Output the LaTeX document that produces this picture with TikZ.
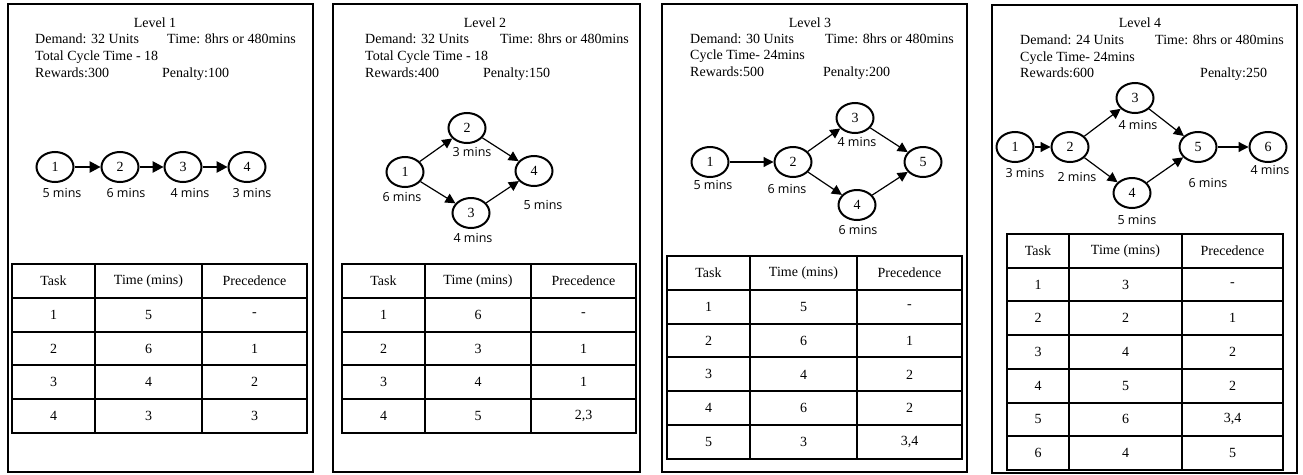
\documentclass[tikz,border=0pt]{standalone}
\usepackage{fontspec}
\setmainfont{Liberation Serif}
\newfontfamily\lblfont{Open Sans}
\usetikzlibrary{arrows.meta,shapes.geometric}
\tikzset{
  panel/.style={draw=black,line width=2pt},
  task/.style={ellipse,draw=black,line width=2pt,minimum width=37pt,minimum height=30pt,inner sep=0pt,font=\fontsize{14}{16}\selectfont},
  link/.style={line width=1.2pt,-{Triangle[length=10pt,width=10pt]}},
  biglink/.style={line width=1.2pt,-{Triangle[length=11pt,width=11.5pt]}},
  mins/.style={font=\lblfont\fontsize{12.5}{14}\selectfont,inner sep=0pt},
  head/.style={anchor=base west,inner sep=0pt,font=\fontsize{14}{16}\selectfont},
  title/.style={anchor=base,inner sep=0pt,font=\fontsize{14}{16}\selectfont},
  tabline/.style={line width=2pt},
  tabtext/.style={inner sep=0pt,font=\fontsize{14}{16}\selectfont},
}
% #1 prefix, #2..#5 column x, #6 top y, #7 row height, #8 rows, #9 data
\newcommand{\mktable}[9]{%
  \draw[tabline] (#2,#6) rectangle ({#5},{#6+#8*#7});
  \draw[tabline] (#3,#6) -- ({#3},{#6+#8*#7});
  \draw[tabline] (#4,#6) -- ({#4},{#6+#8*#7});
  \foreach \a/\b/\c [count=\i from 0] in {#9} {
    \draw[tabline] ({#2},{#6+\i*#7}) -- ({#5},{#6+\i*#7});
    \node[tabtext] (#1-\i-a) at ({(#2+#3)/2},{#6+(\i+0.5)*#7}) {\a};
    \node[tabtext] (#1-\i-b) at ({(#3+#4)/2},{#6+(\i+0.5)*#7}) {\b};
    \node[tabtext] (#1-\i-c) at ({(#4+#5)/2},{#6+(\i+0.5)*#7}) {\c};
  }%
}
\begin{document}
\begin{tikzpicture}[x=1pt,y=-1pt]
\useasboundingbox (0,0) rectangle (1303,474);
\fill[white] (0,0) rectangle (1303,474);

% ---------- Panel 1 ----------
\draw[panel] (8,4) rectangle (313,472);
\node[title] (t1) at (155,27) {Level 1};
\node[head] (d1) at (35,43) {Demand: 32 Units};
\node[head] (h1) at (167,43) {Time: 8hrs or 480mins};
\node[head] (c1) at (35,60) {Total Cycle Time - 18};
\node[head] (r1) at (35,77) {Rewards:300};
\node[head] (p1) at (162,77) {Penalty:100};
\node[task] (a1) at (55,167) {1};
\node[task] (a2) at (120,167) {2};
\node[task] (a3) at (183,167) {3};
\node[task] (a4) at (247,167) {4};
\draw[biglink] (a1) -- (a2);
\draw[biglink] (a2) -- (a3);
\draw[biglink] (a3) -- (a4);
\node[mins] (ma1) at (62,193) {5 mins};
\node[mins] (ma2) at (126,193) {6 mins};
\node[mins] (ma3) at (190,193) {4 mins};
\node[mins] (ma4) at (252,193) {3 mins};
\mktable{T1}{12}{95}{202}{307}{264}{33.8}{5}{Task/Time (mins)/Precedence, 1/5/-, 2/6/1, 3/4/2, 4/3/3}

% ---------- Panel 2 ----------
\draw[panel] (333,4) rectangle (640,472);
\node[title] (t2) at (485,27) {Level 2};
\node[head] (d2) at (365,43) {Demand: 32 Units};
\node[head] (h2) at (500,43) {Time: 8hrs or 480mins};
\node[head] (c2) at (365,60) {Total Cycle Time - 18};
\node[head] (r2) at (365,77) {Rewards:400};
\node[head] (p2) at (483,77) {Penalty:150};
\node[task] (b1) at (405,172) {1};
\node[task] (b2) at (467,128) {2};
\node[task] (b3) at (471,213) {3};
\node[task] (b4) at (534,171) {4};
\draw[link] (b1) -- (b2);
\draw[link] (b1) -- (b3);
\draw[link] (b2) -- (b4);
\draw[link] (b3) -- (b4);
\node[mins] (mb2) at (472,152) {3 mins};
\node[mins] (mb1) at (402,197) {6 mins};
\node[mins] (mb4) at (543,205) {5 mins};
\node[mins] (mb3) at (473,238) {4 mins};
\mktable{T2}{342}{425}{531}{636}{264}{33.8}{5}{Task/Time (mins)/Precedence, 1/6/-, 2/3/1, 3/4/1, 4/5/{2,3}}

% ---------- Panel 3 ----------
\draw[panel] (662,4) rectangle (967,472);
\node[title] (t3) at (810,27) {Level 3};
\node[head] (d3) at (690,43) {Demand: 30 Units};
\node[head] (h3) at (825,43) {Time: 8hrs or 480mins};
\node[head] (c3) at (690,59) {Cycle Time- 24mins};
\node[head] (r3) at (690,76) {Rewards:500};
\node[head] (p3) at (823,76) {Penalty:200};
\node[task] (e1) at (710,162) {1};
\node[task] (e2) at (793,162) {2};
\node[task] (e3) at (855,118) {3};
\node[task] (e4) at (857,205) {4};
\node[task] (e5) at (923,162) {5};
\draw[link] (e1) -- (e2);
\draw[link] (e2) -- (e3);
\draw[link] (e2) -- (e4);
\draw[link] (e3) -- (e5);
\draw[link] (e4) -- (e5);
\node[mins] (me1) at (713,185) {5 mins};
\node[mins] (me2) at (787,189) {6 mins};
\node[mins] (me3) at (857,142) {4 mins};
\node[mins] (me4) at (858,230) {6 mins};
\mktable{T3}{667}{750}{857}{962}{256}{33.83}{6}{Task/Time (mins)/Precedence, 1/5/-, 2/6/1, 3/4/2, 4/6/2, 5/3/{3,4}}

% ---------- Panel 4 ----------
\draw[panel] (992,5) rectangle (1297,473);
\node[title] (t4) at (1140,27) {Level 4};
\node[head] (d4) at (1020,44) {Demand: 24 Units};
\node[head] (h4) at (1155,44) {Time: 8hrs or 480mins};
\node[head] (c4) at (1020,61) {Cycle Time- 24mins};
\node[head] (r4) at (1020,77) {Rewards:600};
\node[head] (p4) at (1200,77) {Penalty:250};
\node[task] (f1) at (1015,147) {1};
\node[task] (f2) at (1070,147) {2};
\node[task] (f3) at (1135,98) {3};
\node[task] (f4) at (1132,193) {4};
\node[task] (f5) at (1198,147) {5};
\node[task] (f6) at (1268,147) {6};
\draw[link] (f1) -- (f2);
\draw[link] (f2) -- (f3);
\draw[link] (f2) -- (f4);
\draw[link] (f3) -- (f5);
\draw[link] (f4) -- (f5);
\draw[link] (f5) -- (f6);
\node[mins] (mf1) at (1025,173) {3 mins};
\node[mins] (mf2) at (1077,177) {2 mins};
\node[mins] (mf3) at (1138,125) {4 mins};
\node[mins] (mf4) at (1137,220) {5 mins};
\node[mins] (mf5) at (1208,183) {6 mins};
\node[mins] (mf6) at (1270,170) {4 mins};
\mktable{T4}{1007}{1069}{1182}{1283}{234}{33.7}{7}{Task/Time (mins)/Precedence, 1/3/-, 2/2/1, 3/4/2, 4/5/2, 5/6/{3,4}, 6/4/5}
\end{tikzpicture}
\end{document}
